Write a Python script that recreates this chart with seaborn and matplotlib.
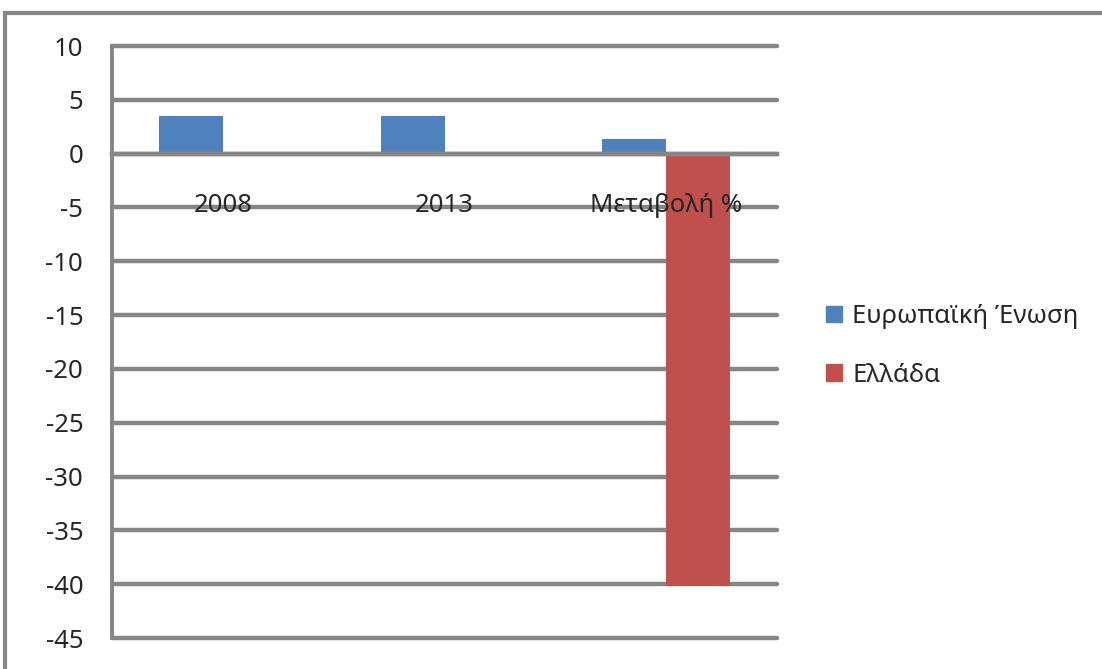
import matplotlib
matplotlib.use("Agg")
import matplotlib.pyplot as plt
import matplotlib.patches as mpatches
import seaborn as sns
import pandas as pd

categories = ["2008", "2013", "Μεταβολή %"]
series_names = ["Ευρωπαϊκή Ένωση", "Ελλάδα"]
eu_values = [3.5, 3.5, 1.4]
gr_values = [0.1, 0.1, -40.2]
y_ticks = [10, 5, 0, -5, -10, -15, -20, -25, -30, -35, -40, -45]

colors = ["#4F81BD", "#C0504D"]
grid_color = "#868686"

sns.set_theme(style="white")
plt.rcParams["font.family"] = ["Noto Sans", "DejaVu Sans"]
FS = 18.5

df = pd.DataFrame({
    "category": categories * 2,
    "series": [series_names[0]] * 3 + [series_names[1]] * 3,
    "value": eu_values + gr_values,
})

fig = plt.figure(figsize=(11.02, 6.69), dpi=100)
ax = fig.add_axes([112 / 1102, 31 / 669, 665 / 1102, 592 / 669])

sns.barplot(data=df, x="category", y="value", hue="series", order=categories,
            hue_order=series_names, palette=colors, width=0.577, saturation=1,
            errorbar=None, ax=ax, zorder=2, linewidth=0)

ax.set_ylim(-45, 10)
ax.set_xlim(-0.5, 2.5)
ax.set_yticks(y_ticks)
ax.set_yticklabels([str(v) for v in y_ticks], fontsize=FS)
ax.yaxis.grid(True, color=grid_color, linewidth=3.2)
ax.set_axisbelow(True)
for gl in ax.get_ygridlines():
    gl.set_clip_on(False)
ax.tick_params(axis="y", length=7.2, width=3, color=grid_color, pad=13.5)

# category axis sits on zero, with boundary ticks pointing down
for side in ["top", "right"]:
    ax.spines[side].set_visible(False)
ax.spines["bottom"].set_position(("data", 0))
ax.spines["bottom"].set_color(grid_color)
ax.spines["bottom"].set_linewidth(3.2)
ax.spines["bottom"].set_zorder(3)
ax.spines["left"].set_color(grid_color)
ax.spines["left"].set_linewidth(2.8)

ax.set_xticks(range(len(categories)))
ax.set_xticklabels(categories, fontsize=FS)
ax.set_xticks([0.5, 1.5, 2.5], minor=True)
ax.tick_params(axis="x", which="major", length=0, pad=28)
ax.tick_params(axis="x", which="minor", length=7, width=3, color=grid_color, direction="out")
ax.xaxis.set_zorder(5)
ax.set_xlabel("")
ax.set_ylabel("")

# legend on the right
handles = [mpatches.Patch(color=c, label=n) for c, n in zip(colors, series_names)]
ax.legend(handles=handles, loc="center left", bbox_to_anchor=(803 / 1102, 323 / 669),
          bbox_transform=fig.transFigure, frameon=False, fontsize=FS,
          handlelength=0.6, handleheight=0.6, handletextpad=0.42, labelspacing=1.3)

# outer chart frame
frame = mpatches.Rectangle((5 / 1102, -0.05), 1.2, (669 - 13) / 669 + 0.05,
                           transform=fig.transFigure, fill=False,
                           edgecolor=grid_color, linewidth=3, clip_on=False)
fig.patches.append(frame)

fig.savefig("out.png", dpi=100)
